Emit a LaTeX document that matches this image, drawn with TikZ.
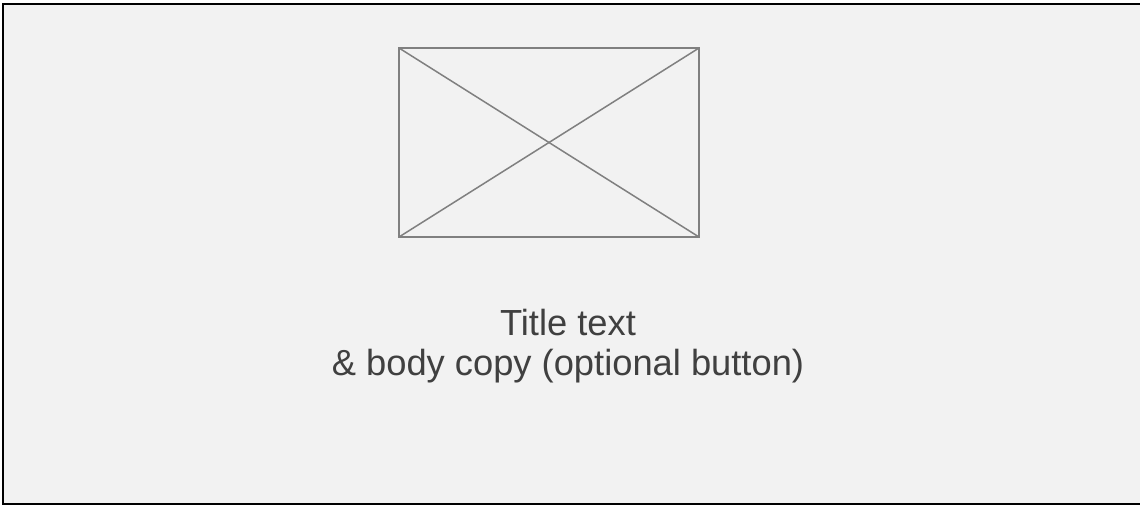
\documentclass[tikz,border=0pt]{standalone}
\usepackage{fontspec}
\setmainfont{Liberation Sans}
\definecolor{bg}{HTML}{F2F2F2}
\definecolor{ph}{HTML}{808080}
\definecolor{txt}{HTML}{404040}
\begin{document}
\begin{tikzpicture}[x=1pt,y=-1pt,
  frame/.style={draw=black,line width=2.5pt,fill=bg},
  placeholder/.style={draw=ph,line width=2pt},
  caption/.style={text=txt,font=\fontsize{36.3}{40}\selectfont,align=center}]
\useasboundingbox (0,0) rectangle (1140,506);
\fill[white] (0,0) rectangle (1140,506);
\draw[frame] (3,4) rectangle (1143,504);
\coordinate (tl) at (399,48);
\coordinate (br) at (699,237);
\coordinate (tr) at (699,48);
\coordinate (bl) at (399,237);
\draw[placeholder] (tl) rectangle (br);
\draw[placeholder,line width=1.5pt] (tl) -- (br);
\draw[placeholder,line width=1.5pt] (tr) -- (bl);
\node[caption] (cap) at (568,346) {Title text\\\& body copy (optional button)};
\end{tikzpicture}
\end{document}
